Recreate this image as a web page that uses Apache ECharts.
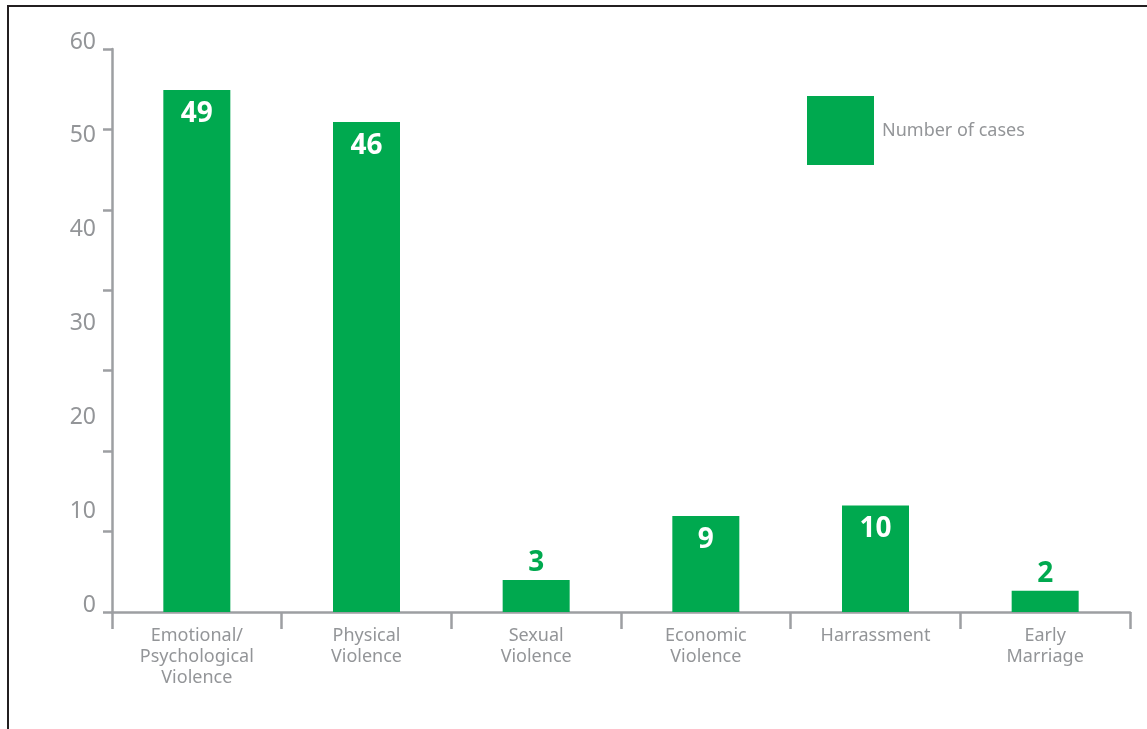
<!DOCTYPE html>
<html>
<head>
<meta charset="utf-8">
<script src="https://cdn.jsdelivr.net/npm/echarts@6/dist/echarts.min.js"></script>
<style>
html,body{margin:0;padding:0;background:#fff;}
#chart{width:1147px;height:729px;}
</style>
</head>
<body>
<div id="chart"></div>
<script>
const categories = ['Emotional/\nPsychological\nViolence', 'Physical\nViolence', 'Sexual\nViolence', 'Economic\nViolence', 'Harrassment', 'Early\nMarriage'];
const cases = [49, 46, 3, 9, 10, 2];
const yTickLabels = [0, 10, 20, 30, 40, 50, 60];
const seriesName = 'Number of cases';

const GREEN = '#00a94f';
const GRAY = '#939598';
const AXIS = '#9d9fa2';
const FONT = '"Noto Sans", "Open Sans", sans-serif';

const chart = echarts.init(document.getElementById('chart'), null, {renderer: 'canvas'});
chart.setOption({
  animation: false,
  backgroundColor: '#fff',
  graphic: [{
    type: 'rect',
    shape: {x: 8, y: 6, width: 1200, height: 800},
    style: {fill: 'none', stroke: '#231f20', lineWidth: 2},
    silent: true
  }],
  legend: {
    data: [seriesName],
    left: 802, top: 91,
    icon: 'rect',
    itemWidth: 67, itemHeight: 69,
    textStyle: {color: GRAY, fontSize: 18, fontFamily: FONT, padding: [0, 0, 0, 3]}
  },
  grid: {left: 112, right: 17, top: 49, bottom: 117, containLabel: false},
  xAxis: {
    type: 'category',
    data: categories,
    axisLine: {show: true, lineStyle: {color: AXIS, width: 2.5}},
    axisTick: {show: true, length: 17, lineStyle: {color: AXIS, width: 2.5}},
    axisLabel: {color: GRAY, fontSize: 18, fontFamily: FONT, lineHeight: 21, margin: 13, interval: 0}
  },
  yAxis: [{
    type: 'value',
    position: 'left',
    min: 0, max: 52.85, interval: 7.55,
    axisLine: {show: true, lineStyle: {color: AXIS, width: 2.5}},
    axisTick: {show: true, length: 9, lineStyle: {color: AXIS, width: 2.5}},
    axisLabel: {show: false},
    splitLine: {show: false}
  }, {
    type: 'value',
    position: 'left',
    offset: 0,
    min: yTickLabels[0], max: yTickLabels[yTickLabels.length - 1], interval: 10,
    axisLine: {show: false},
    axisTick: {show: false},
    splitLine: {show: false},
    axisLabel: {color: GRAY, fontSize: 23, fontFamily: FONT, margin: 16, verticalAlign: 'bottom', lineHeight: 14}
  }],
  series: [{
    name: seriesName,
    type: 'bar',
    yAxisIndex: 0,
    barWidth: 67,
    itemStyle: {color: GREEN},
    data: cases.map(v => ({
      value: v,
      label: v >= 5
        ? {show: true, position: 'insideTop', distance: 10, color: '#fff', fontSize: 28, fontWeight: 'bold', fontFamily: FONT, lineHeight: 28}
        : {show: true, position: 'top', distance: 3, color: GREEN, fontSize: 28, fontWeight: 'bold', fontFamily: FONT, lineHeight: 28}
    }))
  }]
});
</script>
</body>
</html>
